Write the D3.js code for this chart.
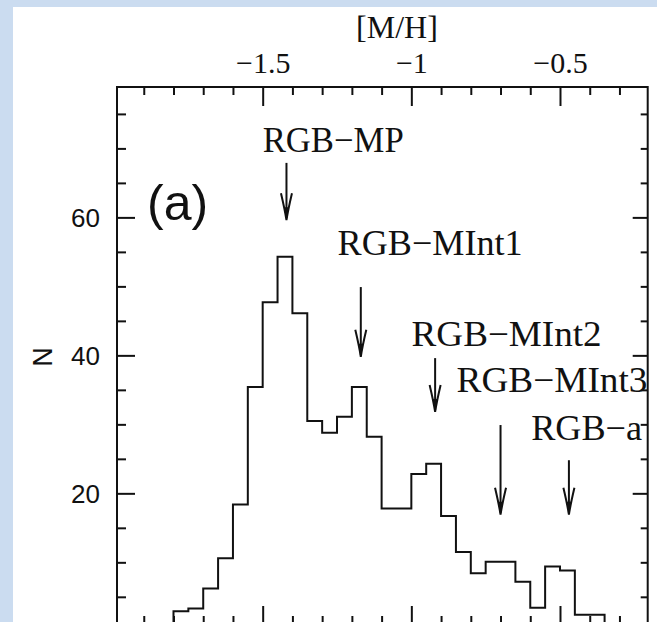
<!DOCTYPE html>
<html>
<head>
<meta charset="utf-8">
<script src="https://cdn.jsdelivr.net/npm/d3@7"></script>
<style>
  html, body { margin: 0; padding: 0; background: #cbdcf0; }
  svg { display: block; }
</style>
</head>
<body>
<svg id="chart" width="657" height="622"></svg>
<script>
// ---------------- DATA ----------------
const binLo = [-1.80, -1.75, -1.70, -1.65, -1.60, -1.55, -1.50, -1.45, -1.40, -1.35,
               -1.30, -1.25, -1.20, -1.15, -1.10, -1.05, -1.00, -0.95, -0.90, -0.85,
               -0.80, -0.75, -0.70, -0.65, -0.60, -0.55, -0.50, -0.45, -0.40];
const binWidth = 0.05;
const counts = [2.9, 3.3, 6.2, 10.6, 18.4, 35.4, 47.7, 54.3, 46.1, 30.5,
                28.8, 31.1, 35.4, 28.2, 17.8, 17.8, 22.8, 24.3, 16.7, 11.5,
                8.4, 10.1, 10.1, 7.2, 3.4, 9.4, 8.8, 2.4, 2.4];

const xMajorTicks = [-1.5, -1.0, -0.5];
const xMajorLabels = ["\u22121.5", "\u22121", "\u22120.5"];
const xMinorTicks = [-1.9, -1.8, -1.7, -1.6, -1.4, -1.3, -1.2, -1.1, -0.9, -0.8, -0.7, -0.6, -0.4, -0.3];
const yMajorTicks = [20, 40, 60];
const yMinorTicks = [5, 10, 15, 25, 30, 35, 45, 50, 55, 65, 70, 75];

const annLabels = ["RGB\u2212MP", "RGB\u2212MInt1", "RGB\u2212MInt2", "RGB\u2212MInt3", "RGB\u2212a"];
const annTextX  = [-1.500, -1.248, -0.999, -0.848, -0.597];
const annTextY  = [69.5, 54.5, 41.3, 34.7, 27.7];
const annTextW  = [141, 185, 190, 191, 111];
const arrowX    = [-1.42, -1.17, -0.92, -0.70, -0.47];
const arrowTop  = [67.9, 49.9, 39.6, 29.9, 24.8];
const arrowTip  = [59.6, 39.8, 31.8, 16.9, 16.9];

// ---------------- LAYOUT ----------------
const svg = d3.select("#chart");
const W = 657, H = 622;
const pL = 117, pR = 647.7, pT = 87, pB = 624;

const x = d3.scaleLinear().domain([-1.99, -0.205]).range([pL, pR]);
const y = d3.scaleLinear().domain([1.06, 78.9]).range([pB, pT]);

const serif = "'Liberation Serif','DejaVu Serif',serif";
const sans = "'Liberation Sans',Arial,sans-serif";

svg.append("rect").attr("width", W).attr("height", H).attr("fill", "#cbdcf0");
svg.append("rect").attr("x", 13).attr("y", 7).attr("width", W - 13).attr("height", H - 7).attr("fill", "#ffffff");

function styleAxis(g) {
  g.select(".domain").remove();
  g.selectAll(".tick line").attr("stroke", "#111").attr("stroke-width", 2);
}

// top axis
svg.append("g").attr("transform", `translate(0,${pT})`)
  .call(d3.axisTop(x).tickValues(xMajorTicks).tickSize(-19).tickPadding(14)
        .tickFormat((d, i) => xMajorLabels[i]))
  .call(styleAxis)
  .call(g => g.selectAll("text").attr("font-family", serif).attr("font-size", 30).attr("fill", "#111"));
svg.append("g").attr("transform", `translate(0,${pT})`)
  .call(d3.axisTop(x).tickValues(xMinorTicks).tickSize(-8).tickFormat(""))
  .call(styleAxis);

// bottom axis (ticks only)
svg.append("g").attr("transform", `translate(0,${pB})`)
  .call(d3.axisBottom(x).tickValues(xMajorTicks).tickSize(-18).tickFormat(""))
  .call(styleAxis);
svg.append("g").attr("transform", `translate(0,${pB})`)
  .call(d3.axisBottom(x).tickValues(xMinorTicks).tickSize(-8).tickFormat(""))
  .call(styleAxis);

// left axis
svg.append("g").attr("transform", `translate(${pL},0)`)
  .call(d3.axisLeft(y).tickValues(yMajorTicks).tickSize(-18).tickPadding(17).tickFormat(d3.format("d")))
  .call(styleAxis)
  .call(g => g.selectAll("text").attr("font-family", sans).attr("font-size", 26).attr("fill", "#111").attr("dy", "0.36em"));
svg.append("g").attr("transform", `translate(${pL},0)`)
  .call(d3.axisLeft(y).tickValues(yMinorTicks).tickSize(-9).tickFormat(""))
  .call(styleAxis);

// right axis
svg.append("g").attr("transform", `translate(${pR},0)`)
  .call(d3.axisRight(y).tickValues(yMajorTicks).tickSize(-15).tickFormat(""))
  .call(styleAxis);
svg.append("g").attr("transform", `translate(${pR},0)`)
  .call(d3.axisRight(y).tickValues(yMinorTicks).tickSize(-7).tickFormat(""))
  .call(styleAxis);

// frame
svg.append("rect").attr("x", pL).attr("y", pT).attr("width", pR - pL).attr("height", pB - pT)
  .attr("fill", "none").attr("stroke", "#111").attr("stroke-width", 2);

// axis titles
svg.append("text").attr("x", 397).attr("y", 38).attr("text-anchor", "middle")
  .attr("font-family", serif).attr("font-size", 32).attr("fill", "#111").text("[M/H]");
svg.append("text").attr("transform", "translate(52,357) rotate(-90)").attr("text-anchor", "middle")
  .attr("font-family", sans).attr("font-size", 27).attr("fill", "#111").text("N");

// panel label
svg.append("text").attr("x", x(-1.889)).attr("y", y(59.6))
  .attr("font-family", sans).attr("font-size", 50).attr("fill", "#111").text("(a)");

// histogram
const pts = [[binLo[0], 0]];
binLo.forEach((lo, i) => pts.push([lo, counts[i]]));
pts.push([binLo[binLo.length - 1] + binWidth, counts[counts.length - 1]]);
pts.push([binLo[binLo.length - 1] + binWidth, 0]);
const line = d3.line().x(d => x(d[0])).y(d => y(d[1])).curve(d3.curveStepAfter);
svg.append("path").attr("d", line(pts)).attr("fill", "none").attr("stroke", "#111")
  .attr("stroke-width", 2).attr("stroke-linejoin", "miter");

// annotations
annLabels.forEach((t, i) => {
  svg.append("text").attr("x", x(annTextX[i])).attr("y", y(annTextY[i]))
    .attr("font-family", serif).attr("font-size", 35).attr("fill", "#111")
    .attr("textLength", annTextW[i]).attr("lengthAdjust", "spacingAndGlyphs").text(t);
  const ax = x(arrowX[i]), y0 = y(arrowTop[i]), y1 = y(arrowTip[i]);
  svg.append("line").attr("x1", ax).attr("x2", ax).attr("y1", y0).attr("y2", y1 - 2)
    .attr("stroke", "#111").attr("stroke-width", 2);
  svg.append("path")
    .attr("d", `M${ax - 5.5},${y1 - 27} Q${ax - 1.5},${y1 - 10} ${ax},${y1} Q${ax + 1.5},${y1 - 10} ${ax + 5.5},${y1 - 27}`)
    .attr("fill", "none").attr("stroke", "#111").attr("stroke-width", 2);
  svg.append("path")
    .attr("d", `M${ax - 2.2},${y1 - 13} L${ax},${y1} L${ax + 2.2},${y1 - 13} Z`)
    .attr("fill", "#111");
});
</script>
</body>
</html>
